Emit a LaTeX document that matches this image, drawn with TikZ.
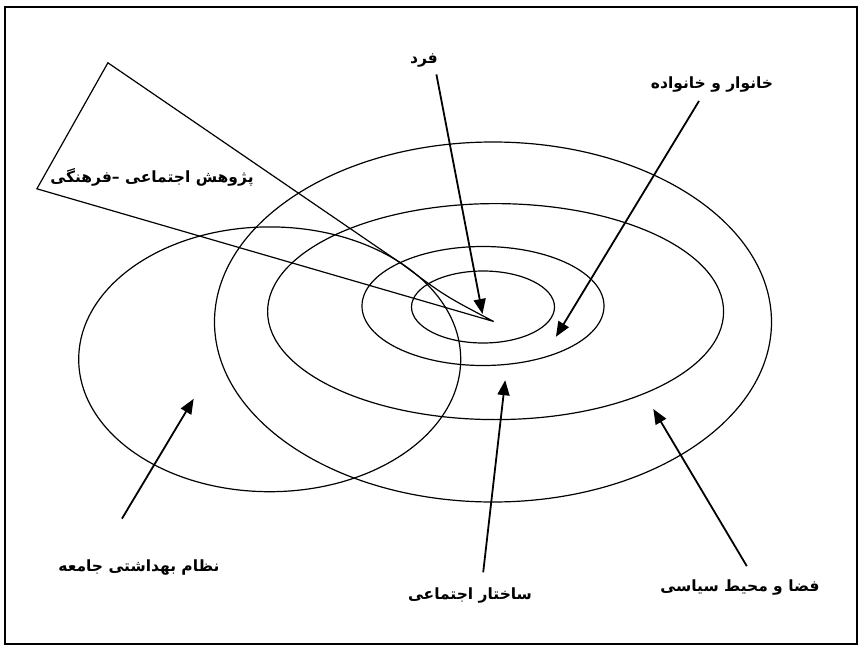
\documentclass[tikz,border=0pt]{standalone}
\usepackage{fontspec}
\usetikzlibrary{arrows.meta}
\TeXXeTstate=1
\newfontfamily\arabicfont[Script=Arabic,BoldFont={DejaVu Sans Bold}]{DejaVu Sans}
\begin{document}
\begin{tikzpicture}[x=1pt,y=-1pt,
  ring/.style={line width=1.2pt},
  pointer/.style={line width=1.8pt,-{Triangle[length=15pt,width=12pt]}},
  lbl/.style={font=\arabicfont\bfseries\fontsize{15.5}{18}\selectfont,inner sep=0pt}]
\useasboundingbox (0,0) rectangle (863,648);
\draw[line width=1.3pt] (5,7) rectangle (857,644);
% ellipses
\draw[ring] (493,322) ellipse [x radius=278.5,y radius=180];
\draw[ring] (495.6,311.6) ellipse [x radius=228,y radius=108];
\draw[ring] (483,306) ellipse [x radius=121,y radius=59.5];
\draw[ring] (483,307) ellipse [x radius=71.5,y radius=36];
\draw[ring] (269.7,359.3) ellipse [x radius=191,y radius=132.4];
% wedge
\coordinate (wtop) at (107.9,62.8);
\coordinate (wleft) at (36.9,188.8);
\coordinate (wtip) at (493.7,321.5);
\draw[ring,line join=miter] (wtip) -- (wleft) -- (wtop) -- (402,264) .. controls (445,296) .. (wtip);
% labels
\node[lbl] (fard) at (424,61) {\beginR فرد\endR};
\node[lbl] (khan) at (712,85) {\beginR خانوار و خانواده\endR};
\node[lbl] (pazh) at (152,177) {\beginR پژوهش اجتماعی –فرهنگی\endR};
\node[lbl] (nezam) at (139,568) {\beginR نظام بهداشتی جامعه\endR};
\node[lbl] (sakh) at (470,595) {\beginR ساختار اجتماعی\endR};
\node[lbl] (faza) at (740,587) {\beginR فضا و محیط سیاسی\endR};
% arrows
\coordinate (a1s) at (436.4,74.4);   \coordinate (a1e) at (482.5,314);
\coordinate (a2s) at (699,101);      \coordinate (a2e) at (555.9,336.8);
\coordinate (a3s) at (122,518.6);    \coordinate (a3e) at (193.7,398.8);
\coordinate (a4s) at (483.2,572.3);  \coordinate (a4e) at (505.2,380.2);
\coordinate (a5s) at (746.8,566.1);  \coordinate (a5e) at (653.3,409);
\draw[pointer] (a1s) -- (a1e);
\draw[pointer] (a2s) -- (a2e);
\draw[pointer] (a3s) -- (a3e);
\draw[pointer] (a4s) -- (a4e);
\draw[pointer] (a5s) -- (a5e);
\end{tikzpicture}
\end{document}
